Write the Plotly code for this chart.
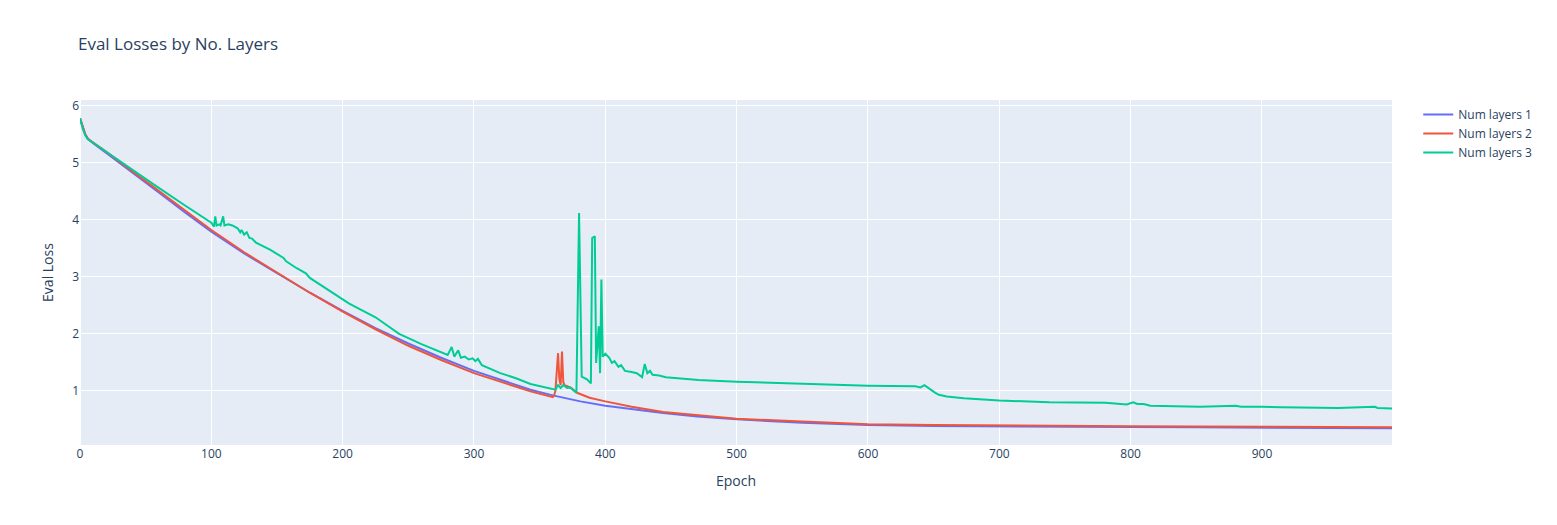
import plotly.graph_objects as go

epochs_l1 = [0, 2, 4, 6, 10, 20, 30, 40, 50, 60, 80, 100, 125, 150, 175, 200, 225, 250, 275, 300,
             325, 343, 360, 381, 400, 420, 444, 470, 500, 550, 600, 650, 700, 750, 800, 850, 900, 950, 999]
loss_l1 = [5.78, 5.62, 5.50, 5.42, 5.34, 5.17, 5.00, 4.83, 4.65, 4.48, 4.13, 3.79, 3.41, 3.06, 2.72, 2.40, 2.10, 1.83, 1.58, 1.35,
           1.15, 1.02, 0.92, 0.815, 0.74, 0.68, 0.61, 0.55, 0.50, 0.44, 0.40, 0.385, 0.375, 0.37, 0.365, 0.36, 0.355, 0.35, 0.345]

epochs_l2 = [0, 2, 4, 6, 10, 20, 30, 40, 50, 60, 80, 100, 125, 150, 175, 200, 225, 250, 275, 300,
             325, 343, 360, 361, 362, 363, 364, 365, 366, 367, 368, 369, 371, 373, 374, 378, 381, 388,
             400, 420, 444, 470, 500, 550, 600, 650, 700, 750, 800, 850, 900, 950, 999]
loss_l2 = [5.78, 5.62, 5.50, 5.42, 5.35, 5.19, 5.02, 4.85, 4.68, 4.51, 4.17, 3.82, 3.43, 3.08, 2.72, 2.39, 2.08, 1.79, 1.54, 1.31,
           1.12, 0.99, 0.89, 0.92, 1.00, 1.30, 1.66, 1.20, 1.10, 1.69, 1.15, 1.10, 1.08, 1.06, 1.05, 0.97, 0.94, 0.88,
           0.815, 0.72, 0.63, 0.57, 0.51, 0.46, 0.415, 0.40, 0.39, 0.385, 0.38, 0.375, 0.37, 0.365, 0.36]

epochs_l3 = [0, 2, 4, 6, 10, 20, 30, 40, 50, 60, 80, 95, 100, 102, 103, 104, 106, 107, 109, 110,
             113, 116, 120, 122, 123, 125, 127, 129, 131, 134, 145, 155, 157, 165, 172, 175, 187, 200, 205, 225,
             243, 260, 280, 283, 285, 288, 290, 293, 296, 299, 301, 303, 306, 320, 332, 343, 355, 362, 364, 366,
             368, 371, 373, 376, 378, 380, 382, 386, 388, 389, 390, 392, 393, 395, 396, 397, 398, 400, 403, 405,
             407, 410, 412, 415, 420, 424, 428, 430, 432, 434, 436, 441, 446, 471, 500, 550, 600, 636, 640, 643,
             646, 649, 651, 654, 660, 673, 686, 700, 738, 776, 781, 797, 802, 805, 810, 815, 853, 880, 884, 900,
             915, 958, 986, 988, 999]
loss_l3 = [5.78, 5.60, 5.48, 5.41, 5.35, 5.19, 5.03, 4.87, 4.71, 4.56, 4.25, 4.02, 3.95, 3.88, 4.06, 3.90, 3.92, 3.90, 4.06, 3.90,
           3.92, 3.90, 3.85, 3.78, 3.82, 3.74, 3.78, 3.68, 3.67, 3.60, 3.47, 3.33, 3.27, 3.15, 3.06, 2.98, 2.80, 2.61, 2.53, 2.29,
           2.00, 1.82, 1.63, 1.77, 1.60, 1.71, 1.58, 1.60, 1.55, 1.57, 1.52, 1.56, 1.45, 1.31, 1.22, 1.12, 1.05, 1.02, 1.10, 1.05,
           1.10, 1.05, 1.06, 1.00, 0.97, 4.12, 1.25, 1.20, 1.15, 1.13, 3.68, 3.71, 1.49, 2.13, 1.31, 2.95, 1.60, 1.65, 1.58, 1.49,
           1.52, 1.42, 1.45, 1.35, 1.33, 1.31, 1.24, 1.47, 1.31, 1.35, 1.28, 1.27, 1.24, 1.19, 1.16, 1.12, 1.09, 1.08, 1.06, 1.10,
           1.05, 0.99, 0.97, 0.93, 0.90, 0.87, 0.85, 0.83, 0.80, 0.78, 0.79, 0.76, 0.80, 0.77, 0.77, 0.74, 0.72, 0.74, 0.72, 0.72,
           0.71, 0.70, 0.72, 0.70, 0.69]

fig = go.Figure()
fig.add_trace(go.Scatter(x=epochs_l1, y=loss_l1, mode='lines', name='Num layers 1'))
fig.add_trace(go.Scatter(x=epochs_l2, y=loss_l2, mode='lines', name='Num layers 2'))
fig.add_trace(go.Scatter(x=epochs_l3, y=loss_l3, mode='lines', name='Num layers 3'))

# the page body adds 8px around the plot, so trim the margins to land the axes where the original has them
fig.update_layout(
    title=dict(text='Eval Losses by No. Layers', x=0.0454, y=0.929, yanchor='middle'),
    xaxis_title='Epoch',
    yaxis_title='Eval Loss',
    xaxis=dict(range=[0, 999]),
    yaxis=dict(range=[0.05, 6.1]),
    margin=dict(l=72, t=92, b=72),
)

fig.write_html("out.html")
